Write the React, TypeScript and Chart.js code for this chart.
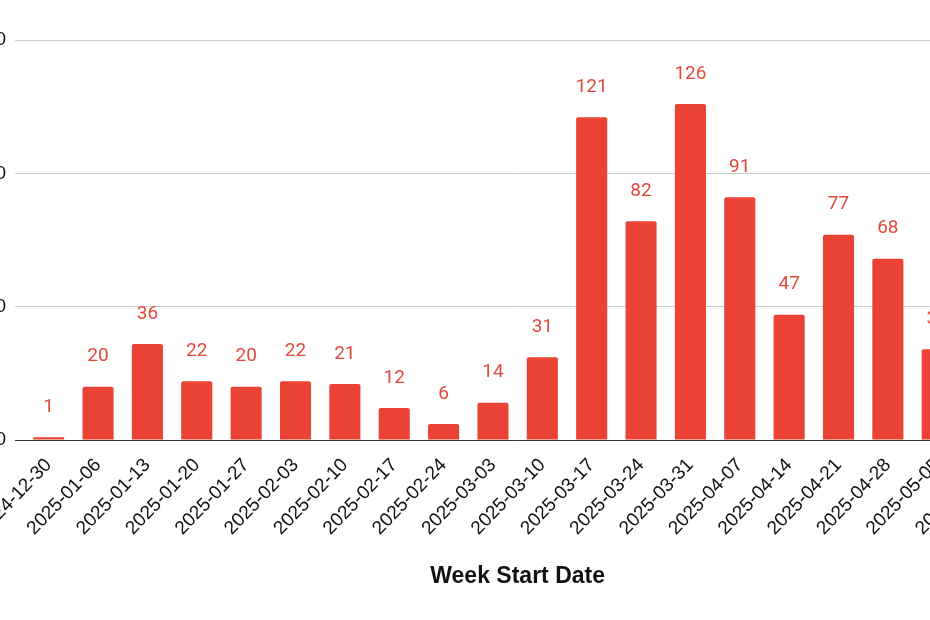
import React, { useEffect, useRef } from "react";
import { Chart, registerables } from "chart.js";

Chart.register(...registerables);

const weekLabels: string[] = [
  "2024-12-30", "2025-01-06", "2025-01-13", "2025-01-20", "2025-01-27",
  "2025-02-03", "2025-02-10", "2025-02-17", "2025-02-24", "2025-03-03",
  "2025-03-10", "2025-03-17", "2025-03-24", "2025-03-31", "2025-04-07",
  "2025-04-14", "2025-04-21", "2025-04-28", "2025-05-05", "2025-05-12",
];
const counts: number[] = [1, 20, 36, 22, 20, 22, 21, 12, 6, 14, 31, 121, 82, 126, 91, 47, 77, 68, 34, 28];
const yTicks: number[] = [0, 50, 100, 150];
const xTitle = "Week Start Date";

const BAR_COLOR = "#ea4335";
const CANVAS_W = 1053;
const CANVAS_H = 620;

const valueLabels = {
  id: "valueLabels",
  afterDatasetsDraw(chart: any) {
    const ctx = chart.ctx;
    const meta = chart.getDatasetMeta(0);
    ctx.save();
    ctx.font = "19px Roboto";
    ctx.fillStyle = "#e2493d";
    ctx.textAlign = "center";
    ctx.textBaseline = "middle";
    meta.data.forEach((el: any, i: number) => {
      ctx.fillText(String(counts[i]), el.x, el.y - 30);
    });
    ctx.restore();
  },
};

export default function App() {
  const ref = useRef<HTMLCanvasElement | null>(null);
  useEffect(() => {
    if (!ref.current) return;
    const chart = new Chart(ref.current, {
      type: "bar",
      data: {
        labels: weekLabels,
        datasets: [
          {
            data: counts,
            backgroundColor: BAR_COLOR,
            borderRadius: { topLeft: 2, topRight: 2, bottomLeft: 0, bottomRight: 0 },
            borderSkipped: "bottom",
            categoryPercentage: 1,
            barPercentage: 0.63,
          },
        ],
      },
      options: {
        responsive: false,
        animation: false,
        devicePixelRatio: 1,
        layout: { padding: { top: 40, right: 0, bottom: 26, left: 0 } },
        plugins: { legend: { display: false }, tooltip: { enabled: false } },
        scales: {
          x: {
            grid: { display: false, drawTicks: false },
            border: { display: false },
            ticks: {
              autoSkip: false,
              minRotation: 46,
              maxRotation: 46,
              padding: 14,
              color: "#111",
              font: { family: "Liberation Sans", size: 19 },
            },
            title: {
              display: true,
              text: xTitle,
              color: "#111",
              font: { family: "Liberation Sans", size: 23, weight: "bold" },
              padding: { top: 4, bottom: 4 },
            },
            afterFit(scale: any) {
              scale.height = 154;
            },
          },
          y: {
            min: 0,
            max: 150,
            afterBuildTicks(scale: any) {
              scale.ticks = yTicks.map((v) => ({ value: v }));
            },
            grid: {
              color: (c: any) => (c.tick && c.tick.value === 0 ? "#333" : "#cccccc"),
              tickColor: (c: any) => (c.tick && c.tick.value === 0 ? "#333" : "#cccccc"),
              tickLength: 9,
              lineWidth: 1,
            },
            border: { display: false },
            ticks: {
              padding: 9,
              color: "#111",
              font: { family: "Liberation Sans", size: 19 },
            },
            afterFit(scale: any) {
              scale.width = 60;
            },
          },
        },
      },
      plugins: [valueLabels],
    });
    return () => chart.destroy();
  }, []);

  return (
    <div
      style={{
        position: "fixed",
        left: 0,
        top: 0,
        width: 930,
        height: 620,
        overflow: "hidden",
        background: "#fff",
      }}
    >
      <canvas
        ref={ref}
        width={CANVAS_W}
        height={CANVAS_H}
        style={{ position: "absolute", left: -36, top: 0, width: CANVAS_W, height: CANVAS_H }}
      />
    </div>
  );
}
